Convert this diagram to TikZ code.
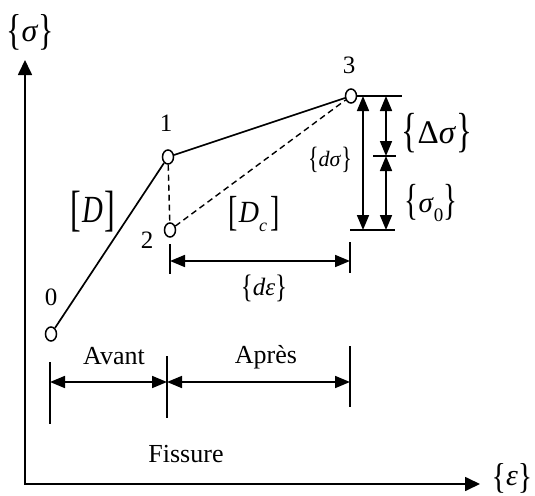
\documentclass[tikz,border=0pt]{standalone}
\usepackage{graphicx}
\usepackage{fontspec}
\setmainfont{Liberation Serif}
\usetikzlibrary{shapes.geometric,arrows.meta}
\newcommand\fsz[1]{\fontsize{#1}{#1}\selectfont}
% stretched braces and brackets: #1 = vertical stretch
\newcommand\LB[1]{\raisebox{-0.08em}{\scalebox{1}[#1]{\{}}}
\newcommand\RB[1]{\raisebox{-0.08em}{\scalebox{1}[#1]{\}}}}
\newcommand\LK[1]{\raisebox{-0.1em}{\scalebox{1}[#1]{[}}}
\newcommand\RK[1]{\raisebox{-0.1em}{\scalebox{1}[#1]{]}}}
\begin{document}
\begin{tikzpicture}[x=1pt,y=-1pt,
  ptn/.style={ellipse,draw,line width=1.5pt,fill=white,minimum width=11pt,minimum height=14pt,inner sep=0pt},
  curve/.style={line width=1.7pt},
  dashln/.style={line width=1.4pt,dash pattern=on 6pt off 4pt},
  axis/.style={line width=1.7pt,line cap=rect,-{Triangle[length=15pt,width=14pt]}},
  dim/.style={line width=1.7pt,{Triangle[length=15pt,width=12pt]}-{Triangle[length=15pt,width=12pt]}},
  tickln/.style={line width=1.8pt},
  lbl/.style={inner sep=0pt}]
\useasboundingbox (0,0) rectangle (535,495);
% axes
\coordinate (O) at (25,484);
\coordinate (ytip) at (25,60);
\coordinate (xtip) at (480,484);
\draw[axis] (O) -- (ytip);
\draw[axis] (O) -- (xtip);
\node[lbl] (siglab) at (30,32) {\fsz{32}\LB{1.35}\textit{σ}\RB{1.35}};
\node[lbl] (epslab) at (512,478) {\fsz{30}\LB{1.2}\textit{ε}\RB{1.2}};
% points
\node[ptn] (p0) at (51,334) {};
\node[ptn] (p1) at (168,157) {};
\node[ptn] (p2) at (170,230) {};
\node[ptn] (p3) at (351,96) {};
\draw[curve] (p0) -- (p1);
\draw[curve] (p1) -- (p3);
\draw[dashln] (p1) -- (p2);
\draw[dashln] (p2) -- (p3);
\node[lbl] (n0) at (51,297) {\fsz{25}0};
\node[lbl] (n1) at (166,123) {\fsz{25}1};
\node[lbl] (n2) at (147,240) {\fsz{25}2};
\node[lbl] (n3) at (349,65) {\fsz{25}3};
\node[lbl] (D) at (93,212) {\fsz{32}\LK{1.55}\kern1pt\scalebox{0.9}[1.2]{\textit{D}}\kern2pt\RK{1.55}};
\node[lbl] (Dc) at (254,214) {\fsz{28}\LK{1.5}\kern1pt\scalebox{1}[1.1]{\textit{D}}\raisebox{-0.3em}{\fsz{18}\textit{c}}\kern3pt\RK{1.5}};
% stress dimensions
\coordinate (t1) at (357,96);
\coordinate (t2) at (402,96);
\coordinate (m1) at (373,156);
\coordinate (m2) at (396,156);
\coordinate (b1) at (350,230);
\coordinate (b2) at (395,230);
\draw[tickln] (t1) -- (t2);
\draw[tickln] (m1) -- (m2);
\draw[tickln] (b1) -- (b2);
\coordinate (dsT) at (363,96);
\coordinate (dsB) at (363,230);
\draw[dim] (dsT) -- (dsB);
\coordinate (DsT) at (386,96);
\coordinate (DsM) at (386,156);
\coordinate (DsB) at (386,230);
\draw[dim] (DsT) -- (DsM);
\draw[dim] (DsM) -- (DsB);
\node[lbl] (dsig) at (330,160) {\fsz{22}\LB{1.4}\textit{dσ}\RB{1.4}};
\node[lbl] (Dsig) at (437,133) {\fsz{33}\LB{1.45}Δ\textit{σ}\RB{1.45}};
\node[lbl] (sig0) at (431,203) {\fsz{29}\LB{1.5}\textit{σ}\raisebox{-0.3em}{\fsz{19}0}\RB{1.5}};
% strain dimension
\coordinate (deT1) at (170,244);
\coordinate (deB1) at (170,274);
\coordinate (deT2) at (350,242);
\coordinate (deB2) at (350,273);
\draw[tickln] (deT1) -- (deB1);
\draw[tickln] (deT2) -- (deB2);
\coordinate (deL) at (170,261);
\coordinate (deR) at (350,261);
\draw[dim] (deL) -- (deR);
\node[lbl] (deps) at (264,288) {\fsz{25}\LB{1.3}\textit{dε}\RB{1.3}};
% Avant / Apres
\coordinate (aT1) at (50,362);
\coordinate (aB1) at (50,424);
\coordinate (aT2) at (167,356);
\coordinate (aB2) at (167,418);
\coordinate (aT3) at (350,346);
\coordinate (aB3) at (350,407);
\draw[tickln] (aT1) -- (aB1);
\draw[tickln] (aT2) -- (aB2);
\draw[tickln] (aT3) -- (aB3);
\coordinate (aL) at (50,382);
\coordinate (aM) at (167,382);
\coordinate (aR) at (350,382);
\draw[dim] (aL) -- (aM);
\draw[dim] (aM) -- (aR);
\node[lbl] (avant) at (114,356) {\fsz{26}Avant};
\node[lbl] (apres) at (266,357) {\fsz{26}Après};
\node[lbl] (fiss) at (186,454) {\fsz{26}Fissure};
\end{tikzpicture}
\end{document}
